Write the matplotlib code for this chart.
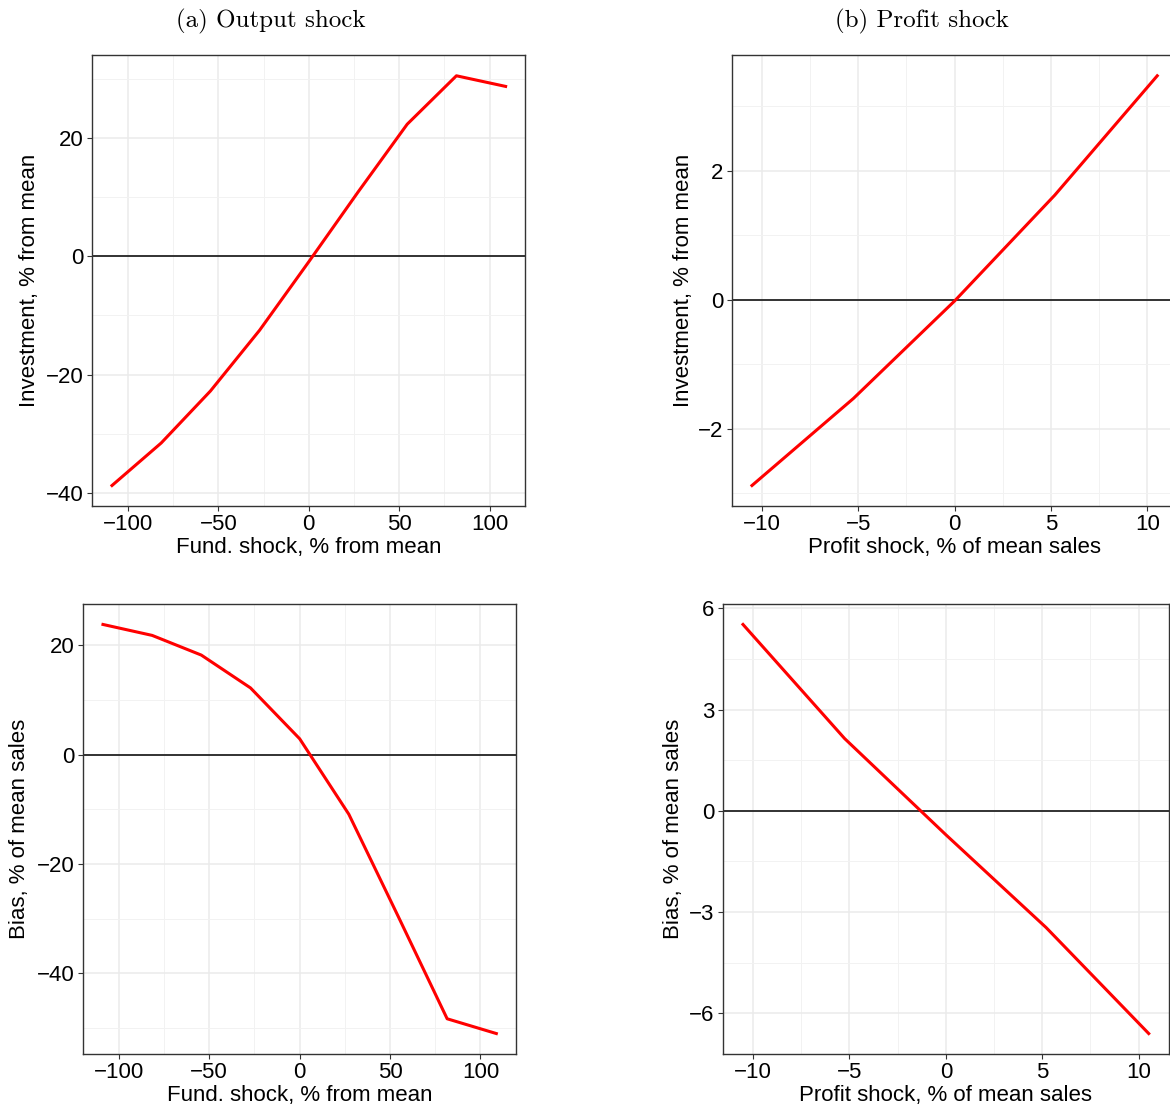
import matplotlib
matplotlib.use("Agg")
import matplotlib.pyplot as plt
import numpy as np

# ---- data ----
fund_shock = [-108.8, -81.6, -54.4, -27.2, 0.0, 27.2, 54.4, 81.6, 108.8]
inv_fund = [-38.8, -31.6, -22.8, -12.5, -0.9, 10.9, 22.4, 30.6, 28.8]
bias_fund = [23.8, 21.8, 18.2, 12.2, 2.9, -10.9, -29.5, -48.3, -51.0]

profit_shock = [-10.52, -5.25, 0.0, 5.2, 10.52]
inv_profit = [-2.88, -1.53, -0.02, 1.62, 3.47]
bias_profit = [5.52, 2.14, -0.71, -3.46, -6.6]

fund_xticks = [-100, -50, 0, 50, 100]
profit_xticks = [-10, -5, 0, 5, 10]
yticks_a = [-40, -20, 0, 20]
yticks_b = [-2, 0, 2]
yticks_c = [-40, -20, 0, 20]
yticks_d = [-6, -3, 0, 3, 6]

W, H = 1170, 1109
fig = plt.figure(figsize=(W / 100, H / 100), dpi=100)
SANS = ["Liberation Sans", "DejaVu Sans"]


def make_ax(left, right, top, bottom):
    return fig.add_axes([left / W, 1 - bottom / H, (right - left) / W, (bottom - top) / H])


def style(ax, x, y, xticks, yticks, xlabel, ylabel, top, bottom, left,
          xlab_y, ylab_x):
    ax.set_xticks(xticks)
    ax.set_yticks(yticks)
    xm = [(a + b) / 2 for a, b in zip(xticks[:-1], xticks[1:])]
    ym = [(a + b) / 2 for a, b in zip(yticks[:-1], yticks[1:])]
    dx = xticks[1] - xticks[0]
    dy = yticks[1] - yticks[0]
    xm = [xticks[0] - dx / 2] + xm + [xticks[-1] + dx / 2]
    ym = [yticks[0] - dy / 2] + ym + [yticks[-1] + dy / 2]
    ax.set_xticks(xm, minor=True)
    ax.set_yticks(ym, minor=True)
    # limits with ggplot 5% expansion (set after ticks)
    xr = max(x) - min(x)
    yr = max(y) - min(y)
    ax.set_xlim(min(x) - 0.05 * xr, max(x) + 0.05 * xr)
    ax.set_ylim(min(y) - 0.05 * yr, max(y) + 0.05 * yr)
    ax.grid(which="major", color="#EBEBEB", lw=1.1)
    ax.grid(which="minor", color="#F2F2F2", lw=0.7)
    ax.set_axisbelow(True)
    ax.tick_params(which="minor", length=0)
    ax.tick_params(which="major", length=3.5, width=0.8, color="#333333",
                   labelsize=16, labelcolor="black", pad=2.5)
    for lab in ax.get_xticklabels() + ax.get_yticklabels():
        lab.set_family(SANS)
    for s in ax.spines.values():
        s.set_color("#333333")
        s.set_linewidth(1.0)
    ax.axhline(0, color="black", lw=1.1, zorder=2)
    ax.plot(x, y, color="red", lw=2.2, zorder=3)
    h = bottom - top
    ax.set_xlabel(xlabel, fontsize=16, family=SANS, va="center")
    ax.xaxis.set_label_coords(0.5, (bottom - xlab_y) / h)
    ax.set_ylabel(ylabel, fontsize=16, family=SANS, va="center")
    pos = ax.get_position()
    ax_left_px = pos.x0 * W
    ax_w_px = pos.width * W
    ax.yaxis.set_label_coords((ylab_x - ax_left_px) / ax_w_px, 0.5)


# panel (a)
ax1 = make_ax(92.3, 525.3, 55.3, 506)
style(ax1, fund_shock, inv_fund, fund_xticks, yticks_a,
      "Fund. shock, % from mean", "Investment, % from mean",
      55.3, 506, 92.3, 547, 30)

# panel (b)
ax2 = make_ax(731.7, 1177.5, 55.3, 506)
style(ax2, profit_shock, inv_profit, profit_xticks, yticks_b,
      "Profit shock, % of mean sales", "Investment, % from mean",
      55.3, 506, 731.7, 547, 683)

# panel (c)
ax3 = make_ax(83.3, 516, 604, 1054)
style(ax3, fund_shock, bias_fund, fund_xticks, yticks_c,
      "Fund. shock, % from mean", "Bias, % of mean sales",
      604, 1054, 83.3, 1095, 20)

# panel (d)
ax4 = make_ax(722.7, 1169, 604, 1054)
style(ax4, profit_shock, bias_profit, profit_xticks, yticks_d,
      "Profit shock, % of mean sales", "Bias, % of mean sales",
      604, 1054, 722.7, 1095, 673)

fig.text(271 / W, 1 - 21 / H, "(a) Output shock", family=["cmr10", "DejaVu Serif"],
         fontsize=18, ha="center", va="center")
fig.text(922 / W, 1 - 21 / H, "(b) Profit shock", family=["cmr10", "DejaVu Serif"],
         fontsize=18, ha="center", va="center")

fig.savefig("out.png", dpi=100)
